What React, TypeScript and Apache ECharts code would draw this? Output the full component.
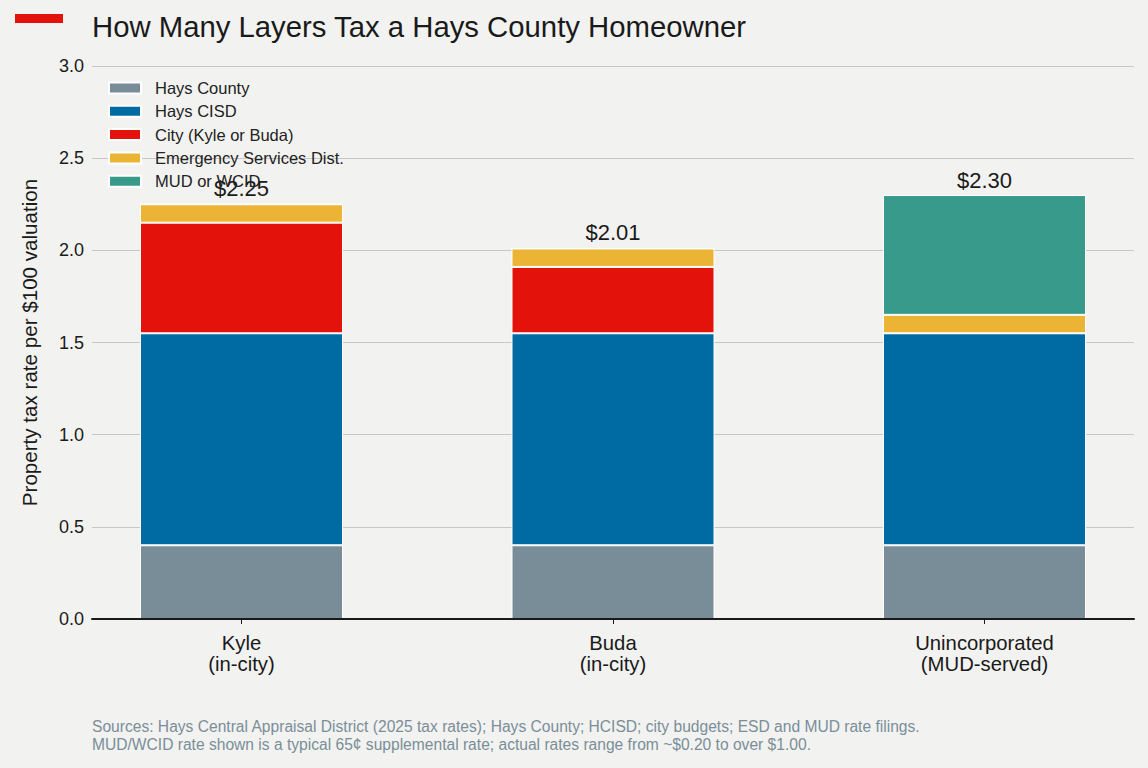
import React, { useEffect, useRef } from "react";
import * as echarts from "echarts";

const categories = ["Kyle\n(in-city)", "Buda\n(in-city)", "Unincorporated\n(MUD-served)"];
const seriesNames = ["Hays County", "Hays CISD", "City (Kyle or Buda)", "Emergency Services Dist.", "MUD or WCID"];
const haysCounty = [0.4, 0.4, 0.4];
const haysCISD = [1.15, 1.15, 1.15];
const city = [0.6, 0.36, 0];
const esd = [0.1, 0.1, 0.1];
const mud = [0, 0, 0.65];
const yTicks = [0, 0.5, 1.0, 1.5, 2.0, 2.5, 3.0];
const colors = ["#798D99", "#006BA2", "#E3120B", "#EBB434", "#379A8B"];

const title = "How Many Layers Tax a Hays County Homeowner";
const yTitle = "Property tax rate per $100 valuation";
const footnote =
  "Sources: Hays Central Appraisal District (2025 tax rates); Hays County; HCISD; city budgets; ESD and MUD rate filings.\nMUD/WCID rate shown is a typical 65¢ supplemental rate; actual rates range from ~$0.20 to over $1.00.";

export default function App() {
  const ref = useRef<HTMLDivElement>(null);
  useEffect(() => {
    document.body.style.margin = "0";
    const chart = echarts.init(ref.current!, null, { renderer: "svg" });
    const allSeries = [haysCounty, haysCISD, city, esd, mud];
    const totals = categories.map((_, i) => allSeries.reduce((s, arr) => s + arr[i], 0));
    const font = "'Liberation Sans', Arial, Helvetica, sans-serif";
    const option: any = {
      animation: false,
      backgroundColor: "#F2F2F0",
      textStyle: { fontFamily: font },
      title: {
        text: title,
        left: 87,
        top: 7,
        textStyle: { fontSize: 29.3, fontWeight: "normal", color: "#1a1a1a", fontFamily: font },
      },
      legend: {
        orient: "vertical",
        left: 103,
        top: 74,
        itemWidth: 32,
        itemHeight: 11,
        itemGap: 5.3,
        icon: "rect",
        textStyle: { fontSize: 16.5, lineHeight: 18, color: "#222", fontFamily: font, padding: [0, 0, 0, 9] },
        data: seriesNames,
      },
      grid: [
        { left: 92, right: 14, top: 66, bottom: 149, outerBoundsMode: "none" },
        { left: 55.75, width: 1114.5, top: 66, bottom: 149, outerBoundsMode: "none" },
      ],
      xAxis: [
        {
          gridIndex: 0,
          type: "category",
          data: categories,
          axisLine: { lineStyle: { color: "#1a1a1a", width: 2 } },
          axisTick: { show: false },
          axisLabel: { show: false },
          splitLine: { show: false },
          z: 5,
        },
        {
          gridIndex: 1,
          type: "category",
          data: categories,
          axisLine: { show: false },
          axisTick: { show: true, alignWithLabel: true, length: 5, lineStyle: { color: "#1a1a1a", width: 1 } },
          axisLabel: { fontSize: 20.3, color: "#1a1a1a", lineHeight: 21.5, margin: 13, fontFamily: font },
        },
      ],
      yAxis: [
        {
          gridIndex: 0,
          type: "value",
          min: 0,
          max: 3,
          interval: 0.5,
          name: yTitle,
          nameLocation: "middle",
          nameGap: 52,
          nameTextStyle: { fontSize: 20.6, color: "#1a1a1a", fontFamily: font },
          axisLine: { show: false },
          axisTick: { show: false },
          axisLabel: {
            fontSize: 18,
            color: "#1a1a1a",
            margin: 8,
            fontFamily: font,
            customValues: yTicks,
            formatter: (v: number) => v.toFixed(1),
          },
          splitLine: { lineStyle: { color: "#C8C8C8", width: 1 } },
        },
        {
          gridIndex: 1,
          type: "value",
          min: 0,
          max: 3,
          interval: 0.5,
          show: false,
          splitLine: { show: false },
        },
      ],
      series: allSeries.map((arr, si) => ({
        name: seriesNames[si],
        type: "bar",
        stack: "total",
        xAxisIndex: 1,
        yAxisIndex: 1,
        barWidth: 203,
        data: arr,
        itemStyle: { color: colors[si], borderColor: "#ffffff", borderWidth: 1 },
        label:
          si === allSeries.length - 1
            ? {
                show: true,
                position: "top",
                distance: 4,
                fontSize: 22,
                color: "#1a1a1a",
                fontFamily: font,
                formatter: (p: any) => "$" + totals[p.dataIndex].toFixed(2),
              }
            : { show: false },
      })),
      graphic: [
        { type: "rect", left: 15, top: 14, shape: { width: 48, height: 9 }, style: { fill: "#E3120B" } },
        {
          type: "text",
          left: 92,
          top: 717,
          style: { text: footnote, fontSize: 15.6, lineHeight: 18, fill: "#7A8E99", fontFamily: font },
        },
      ],
    };
    chart.setOption(option);
    return () => chart.dispose();
  }, []);
  return <div ref={ref} style={{ width: 1148, height: 768 }} />;
}
